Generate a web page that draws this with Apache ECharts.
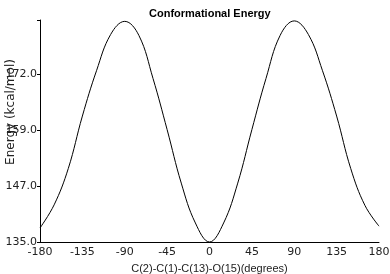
<!DOCTYPE html>
<html>
<head>
<meta charset="utf-8">
<script src="https://cdn.jsdelivr.net/npm/echarts@6/dist/echarts.min.js"></script>
<style>html,body{margin:0;padding:0;background:#fff}#c{width:390px;height:274px}</style>
</head>
<body>
<div id="c"></div>
<script>
var angles = [-180,-165,-150,-135,-120,-105,-90,-75,-60,-45,-30,-15,0,15,30,45,60,75,90,105,120,135,150,165,180];
var energies = [138.1,143.2,151.2,162.8,172.8,180.8,183.7,180.6,171.1,159.8,148.0,139.2,135.0,139.2,148.0,159.8,171.1,180.6,183.8,180.8,172.8,162.8,151.2,143.1,138.5];
var xTicks = [-180,-135,-90,-45,0,45,90,135,180];
var yTickLabels = ['135.0','147.0','159.0','172.0'];

var chart = echarts.init(document.getElementById('c'));
var pts = angles.map(function(a,i){return [a, energies[i]];});
var yMin = 135, yStep = 37/3;
chart.setOption({
  animation:false,
  title:{text:'Conformational Energy',left:144,top:3,
    textStyle:{fontFamily:'Liberation Sans',fontSize:11,fontWeight:'bold',color:'#000'}},
  grid:{left:40,right:11,top:20,bottom:32,containLabel:false,outerBoundsMode:'none'},
  xAxis:{type:'value',min:-180,max:180,interval:45,
    name:'C(2)-C(1)-C(13)-O(15)(degrees)',nameLocation:'middle',nameGap:21,nameMoveOverlap:false,
    nameTextStyle:{fontFamily:'Liberation Sans',fontSize:11,color:'#222'},
    axisLine:{onZero:false,lineStyle:{color:'#000',width:1}},axisTick:{show:false},
    splitLine:{show:false},
    axisLabel:{fontFamily:'DejaVu Sans',fontSize:11,color:'#222',margin:5,
      formatter:function(v){return xTicks.indexOf(v)>=0?String(v):'';}}},
  yAxis:{type:'value',min:yMin,max:184,interval:yStep,
    name:'Energy (kcal/mol)',nameLocation:'middle',nameGap:23,nameRotate:90,nameMoveOverlap:false,
    nameTextStyle:{fontFamily:'DejaVu Sans',fontSize:12,color:'#222',padding:[0,0,0,38]},
    axisLine:{show:true,onZero:false,lineStyle:{color:'#000',width:1}},
    axisTick:{show:true,length:3,lineStyle:{color:'#000'}},
    splitLine:{show:false},
    axisLabel:{fontFamily:'DejaVu Sans',fontSize:11,color:'#222',margin:3,
      formatter:function(v){var i=Math.round((v-yMin)/yStep);return yTickLabels[i]||'';}}},
  series:[{type:'line',data:pts,smooth:0.4,showSymbol:false,
    lineStyle:{color:'#000',width:1}}]
});
</script>
</body>
</html>
